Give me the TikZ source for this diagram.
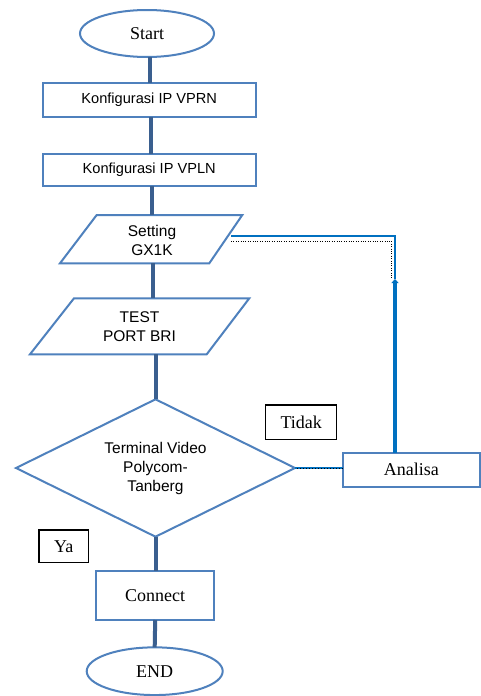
\documentclass[tikz,border=0pt]{standalone}
\usepackage{fontspec}
\setmainfont{Liberation Serif}
\newfontfamily\arialf{Liberation Sans}
\usetikzlibrary{arrows.meta,shapes.geometric}
\definecolor{shapeblue}{HTML}{4F81BD}
\definecolor{flowblue}{HTML}{3A5F8F}
\definecolor{loopblue}{HTML}{0070C0}
\begin{document}
\begin{tikzpicture}[x=1pt,y=-1pt,
  shapeline/.style={draw=shapeblue, line width=2pt, line join=miter},
  shapebox/.style={shapeline, inner sep=0pt, outer sep=0pt},
  textonly/.style={inner sep=0pt, outer sep=0pt, align=center},
  serifbig/.style={font=\fontsize{18}{20}\selectfont},
  sansmid/.style={font=\arialf\fontsize{14.6}{16}\selectfont},
  sansbig/.style={font=\arialf\fontsize{15.5}{19}\selectfont},
  flow/.style={draw=flowblue, line width=4pt},
  labelbox/.style={draw=black, line width=1.3pt, inner sep=0pt, serifbig}]
\useasboundingbox (0,0) rectangle (480,696);
\fill[white] (0,0) rectangle (480,696);

% nodes
\node[shapebox, ellipse, minimum width=134pt, minimum height=47pt, serifbig] (start) at (147,33.5) {Start};
\node[shapebox, rectangle, minimum width=213pt, minimum height=33.4pt, sansmid] (box1) at (149.2,100) {Konfigurasi IP VPRN};
\node[shapebox, rectangle, minimum width=213pt, minimum height=31.7pt, sansmid] (box2) at (149.2,170) {Konfigurasi IP VPLN};

% Setting parallelogram
\coordinate (s1) at (96.7,215);
\coordinate (s2) at (242.3,215);
\coordinate (s3) at (209.3,263.3);
\coordinate (s4) at (60,263.3);
\draw[shapeline] (s1) -- (s2) -- (s3) -- (s4) -- cycle;
\node[textonly, minimum width=110pt, minimum height=48.3pt, sansbig] (setting) at (152,240) {Setting\\GX1K};

% TEST parallelogram
\coordinate (t1) at (74,298.3);
\coordinate (t2) at (249.3,298.3);
\coordinate (t3) at (206.7,354.3);
\coordinate (t4) at (30,354.3);
\draw[shapeline] (t1) -- (t2) -- (t3) -- (t4) -- cycle;
\node[textonly, minimum width=120pt, minimum height=56pt, sansbig] (test) at (139.5,327) {TEST\\PORT BRI};

% decision
\node[textonly, minimum width=279pt, minimum height=137.4pt, sansbig] (dec) at (155.5,468) {Terminal Video\\Polycom-\\Tanberg};
\draw[shapeline] (dec.north) -- (dec.east) -- (dec.south) -- (dec.west) -- cycle;

\node[labelbox, minimum width=71pt, minimum height=34.3pt] (tidak) at (301.2,422.2) {Tidak};
\node[shapebox, rectangle, minimum width=137.3pt, minimum height=34pt, serifbig] (analisa) at (411.3,469.7) {Analisa};
\node[labelbox, minimum width=49.3pt, minimum height=32.7pt] (ya) at (63.7,546.3) {Ya};
\node[shapebox, rectangle, minimum width=118.3pt, minimum height=49pt, serifbig] (connect) at (155.2,595.5) {Connect};
\node[shapebox, ellipse, minimum width=136pt, minimum height=47.7pt, serifbig] (end) at (154.7,671.2) {END};

% main flow
\draw[flow] (start.south -| 150,0) -- (box1.north -| 150,0);
\draw[flow] (box1.south -| 150.7,0) -- (box2.north -| 150.7,0);
\draw[flow] (box2.south -| 151.7,0) -- (s1 -| 151.7,0);
\draw[flow] (s4 -| 153.3,0) -- (t1 -| 153.3,0);
\draw[flow] (t4 -| dec.north) -- (dec.north);
\draw[flow] (dec.south) -- (connect.north -| dec.south);
\draw[flow] (connect.south) -- (end.north);

% feedback loop
\coordinate (fbtop) at (395,236);
\coordinate (fbarrow) at (395,279);
\coordinate (setr) at (231,236);
\coordinate (dt1) at (231,241);
\coordinate (dt2) at (391.5,241);
\coordinate (dt3) at (391.5,279);
\draw[loopblue, line width=4pt, -{Triangle[length=4pt,width=7pt]}] (fbtop |- analisa.north) -- (fbarrow);
\draw[loopblue, line width=2.5pt] (fbarrow) -- (fbtop) -- (setr);
\draw[black, line width=0.9pt, dash pattern=on 0.8pt off 1.6pt] (dt1) -- (dt2) -- (dt3);

\draw[loopblue, line width=2.2pt] (dec.east -| analisa.west) -- (dec.east);
\draw[black, line width=1pt, dash pattern=on 0.7pt off 2.3pt] (dec.east -| analisa.west) -- (dec.east);
\end{tikzpicture}
\end{document}
